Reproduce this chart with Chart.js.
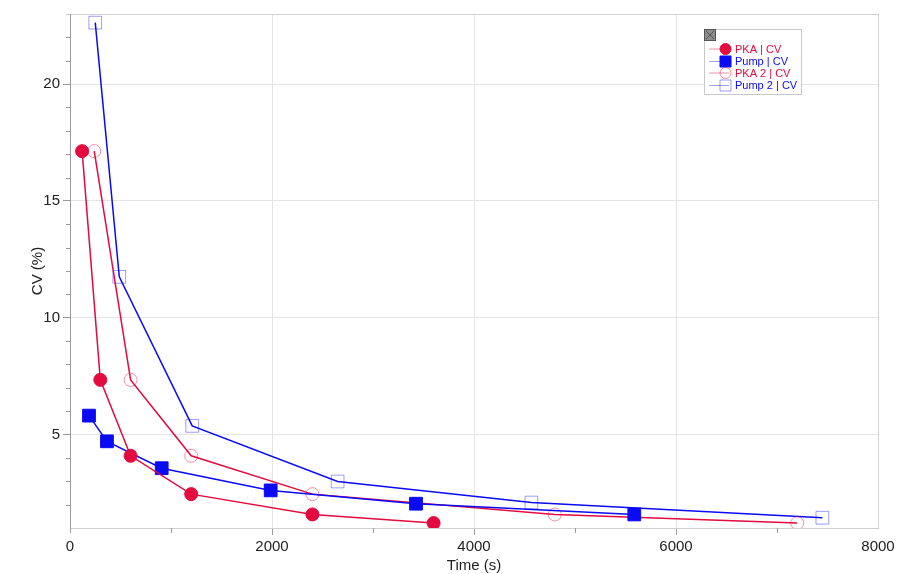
<!DOCTYPE html>
<html>
<head>
<meta charset="utf-8">
<title>CV vs time</title>
<script src="https://cdn.jsdelivr.net/npm/chart.js@4/dist/chart.umd.min.js"></script>
<style>
  html, body { margin: 0; padding: 0; background: #ffffff; }
  #wrap { width: 914px; height: 574px; }
</style>
</head>
<body>
<div id="wrap"><canvas id="cv" width="914" height="574"></canvas></div>
<script>
// Measured coefficient of variation over time for each run
const pkaTime   = [120, 300, 600, 1200, 2400, 3600];
const pkaCV     = [17.13, 7.34, 4.09, 2.45, 1.58, 1.21];
const pumpTime  = [188, 366, 908, 1987, 3426, 5587];
const pumpCV    = [5.81, 4.71, 3.56, 2.61, 2.04, 1.58];
const pka2Time  = [240, 600, 1200, 2400, 4800, 7200];
const pka2CV    = [17.13, 7.34, 4.09, 2.45, 1.58, 1.21];
const pump2Time = [250, 488, 1210, 2650, 4568, 7449];
const pump2CV   = [22.63, 11.75, 5.37, 2.99, 2.09, 1.44];

const seriesNames = ['PKA | CV', 'Pump | CV', 'PKA 2 | CV', 'Pump 2 | CV'];

// Axis ticks
const xMajorTicks = [2000, 4000, 6000];
const xMinorTicks = [0, 1000, 3000, 5000, 7000];
const yMajorTicks = [5, 10, 15, 20];

const RED = '#e20a3e';
const RED_LIGHT = 'rgba(226,10,62,0.45)';
const BLUE = '#0a0af5';
const BLUE_LIGHT = 'rgba(10,10,245,0.4)';
const FONT = '"Liberation Sans", Arial, sans-serif';

const toPoints = (xs, ys) => xs.map((x, i) => ({ x: x, y: ys[i] }));

// Short minor tick marks outside the plot area
const minorTicks = {
  id: 'minorTicks',
  afterDraw(chart) {
    const { ctx, chartArea, scales } = chart;
    ctx.save();
    ctx.strokeStyle = '#9a9a9a';
    ctx.lineWidth = 1;
    xMinorTicks.forEach(v => {
      const px = Math.round(scales.x.getPixelForValue(v)) + 0.5;
      ctx.beginPath();
      ctx.moveTo(px, chartArea.bottom);
      ctx.lineTo(px, chartArea.bottom + 5);
      ctx.stroke();
    });
    for (let v = 2; v <= 23; v++) {
      if (v % 5 === 0) continue;
      const py = Math.round(scales.y.getPixelForValue(v)) + 0.5;
      ctx.strokeStyle = v === 23 ? '#d2d2d2' : '#9a9a9a';
      ctx.beginPath();
      ctx.moveTo(chartArea.left - 4, py);
      ctx.lineTo(chartArea.left, py);
      ctx.stroke();
    }
    ctx.restore();
  }
};

function drawMarker(ctx, style, x, y, r, fill, stroke) {
  ctx.beginPath();
  if (style === 'rect') {
    ctx.rect(x - r, y - r, 2 * r, 2 * r);
  } else {
    ctx.arc(x, y, r, 0, Math.PI * 2);
  }
  if (fill && fill !== 'transparent') { ctx.fillStyle = fill; ctx.fill(); }
  ctx.strokeStyle = stroke;
  ctx.lineWidth = 1;
  ctx.stroke();
}

// Boxed legend in the upper right corner of the plot
const boxLegend = {
  id: 'boxLegend',
  afterDraw(chart) {
    const { ctx } = chart;
    const left = 704, top = 29, width = 97, height = 65;
    ctx.save();
    ctx.fillStyle = '#ffffff';
    ctx.fillRect(left, top, width, height);
    ctx.strokeStyle = '#c8c8c8';
    ctx.lineWidth = 1;
    ctx.strokeRect(left + 0.5, top + 0.5, width, height);

    // close box
    ctx.fillStyle = '#8c8c8c';
    ctx.fillRect(left, top, 11, 11);
    ctx.strokeStyle = '#555555';
    ctx.strokeRect(left + 0.5, top + 0.5, 11, 11);
    ctx.beginPath();
    ctx.moveTo(left + 2, top + 2); ctx.lineTo(left + 10, top + 10);
    ctx.moveTo(left + 10, top + 2); ctx.lineTo(left + 2, top + 10);
    ctx.stroke();

    const rows = [49, 61.5, 73, 85.5];
    chart.data.datasets.forEach((ds, i) => {
      const y = rows[i];
      ctx.strokeStyle = ds.legendLine;
      ctx.lineWidth = 1;
      ctx.beginPath();
      ctx.moveTo(709, y);
      ctx.lineTo(729, y);
      ctx.stroke();
      drawMarker(ctx, ds.pointStyle, 725.5, y, 5.5, ds.pointBackgroundColor, ds.pointBorderColor);
      ctx.fillStyle = ds.textColor;
      ctx.font = '11px ' + FONT;
      ctx.textBaseline = 'middle';
      ctx.textAlign = 'left';
      ctx.fillText(ds.label, 735, y + 0.5);
    });
    ctx.restore();
  }
};

new Chart(document.getElementById('cv'), {
  type: 'scatter',
  data: {
    datasets: [
      {
        label: seriesNames[0],
        data: toPoints(pkaTime, pkaCV),
        showLine: true, borderColor: RED, borderWidth: 1.5,
        pointStyle: 'circle', pointRadius: 6.5,
        pointBackgroundColor: RED, pointBorderColor: RED, pointBorderWidth: 1,
        legendLine: RED_LIGHT, textColor: RED
      },
      {
        label: seriesNames[1],
        data: toPoints(pumpTime, pumpCV),
        showLine: true, borderColor: BLUE, borderWidth: 1.5,
        pointStyle: 'rect', pointRadius: 9,
        pointBackgroundColor: BLUE, pointBorderColor: BLUE, pointBorderWidth: 1,
        legendLine: BLUE_LIGHT, textColor: BLUE
      },
      {
        label: seriesNames[2],
        data: toPoints(pka2Time, pka2CV),
        showLine: true, borderColor: RED, borderWidth: 1.5,
        pointStyle: 'circle', pointRadius: 6.5,
        pointBackgroundColor: 'transparent', pointBorderColor: RED_LIGHT, pointBorderWidth: 1,
        legendLine: RED_LIGHT, textColor: RED
      },
      {
        label: seriesNames[3],
        data: toPoints(pump2Time, pump2CV),
        showLine: true, borderColor: BLUE, borderWidth: 1.5,
        pointStyle: 'rect', pointRadius: 9,
        pointBackgroundColor: 'transparent', pointBorderColor: BLUE_LIGHT, pointBorderWidth: 1,
        legendLine: BLUE_LIGHT, textColor: BLUE
      }
    ]
  },
  options: {
    responsive: false,
    animation: false,
    devicePixelRatio: 1,
    layout: { padding: { top: 14, right: 36, left: 0, bottom: 0 } },
    plugins: { legend: { display: false }, tooltip: { enabled: false } },
    elements: { line: { tension: 0 } },
    scales: {
      x: {
        type: 'linear', min: 0, max: 8000,
        afterFit(scale) { scale.height = 46; },
        ticks: {
          stepSize: 1000, autoSkip: false, maxRotation: 0, padding: 3,
          color: '#222222', font: { family: FONT, size: 15 },
          callback: v => (v % 2000 === 0 ? String(v) : '')
        },
        grid: {
          tickLength: 7,
          color: c => xMajorTicks.includes(c.tick.value) ? '#e4e4e4' : (c.tick.value === 8000 ? '#d2d2d2' : 'rgba(0,0,0,0)'),
          tickColor: c => xMajorTicks.includes(c.tick.value) ? '#9a9a9a' : 'rgba(0,0,0,0)'
        },
        border: { color: '#cfcfcf' },
        title: {
          display: true, text: 'Time (s)', color: '#222222',
          font: { family: FONT, size: 15 }, padding: { top: 0, bottom: -1 }
        }
      },
      y: {
        type: 'linear', min: 1, max: 23,
        afterFit(scale) { scale.width = 70; },
        ticks: {
          stepSize: 1, autoSkip: false, padding: 3,
          color: '#222222', font: { family: FONT, size: 15 },
          callback: v => (v % 5 === 0 ? String(v) : '')
        },
        grid: {
          tickLength: 7,
          color: c => yMajorTicks.includes(c.tick.value) ? '#e4e4e4' : (c.tick.value === 23 ? '#d2d2d2' : 'rgba(0,0,0,0)'),
          tickColor: c => yMajorTicks.includes(c.tick.value) ? '#9a9a9a' : 'rgba(0,0,0,0)'
        },
        border: { color: '#9a9a9a' },
        title: {
          display: true, text: 'CV (%)', color: '#222222',
          font: { family: FONT, size: 15 }, padding: { top: 29, bottom: 0 }
        }
      }
    }
  },
  plugins: [minorTicks, boxLegend]
});
</script>
</body>
</html>
